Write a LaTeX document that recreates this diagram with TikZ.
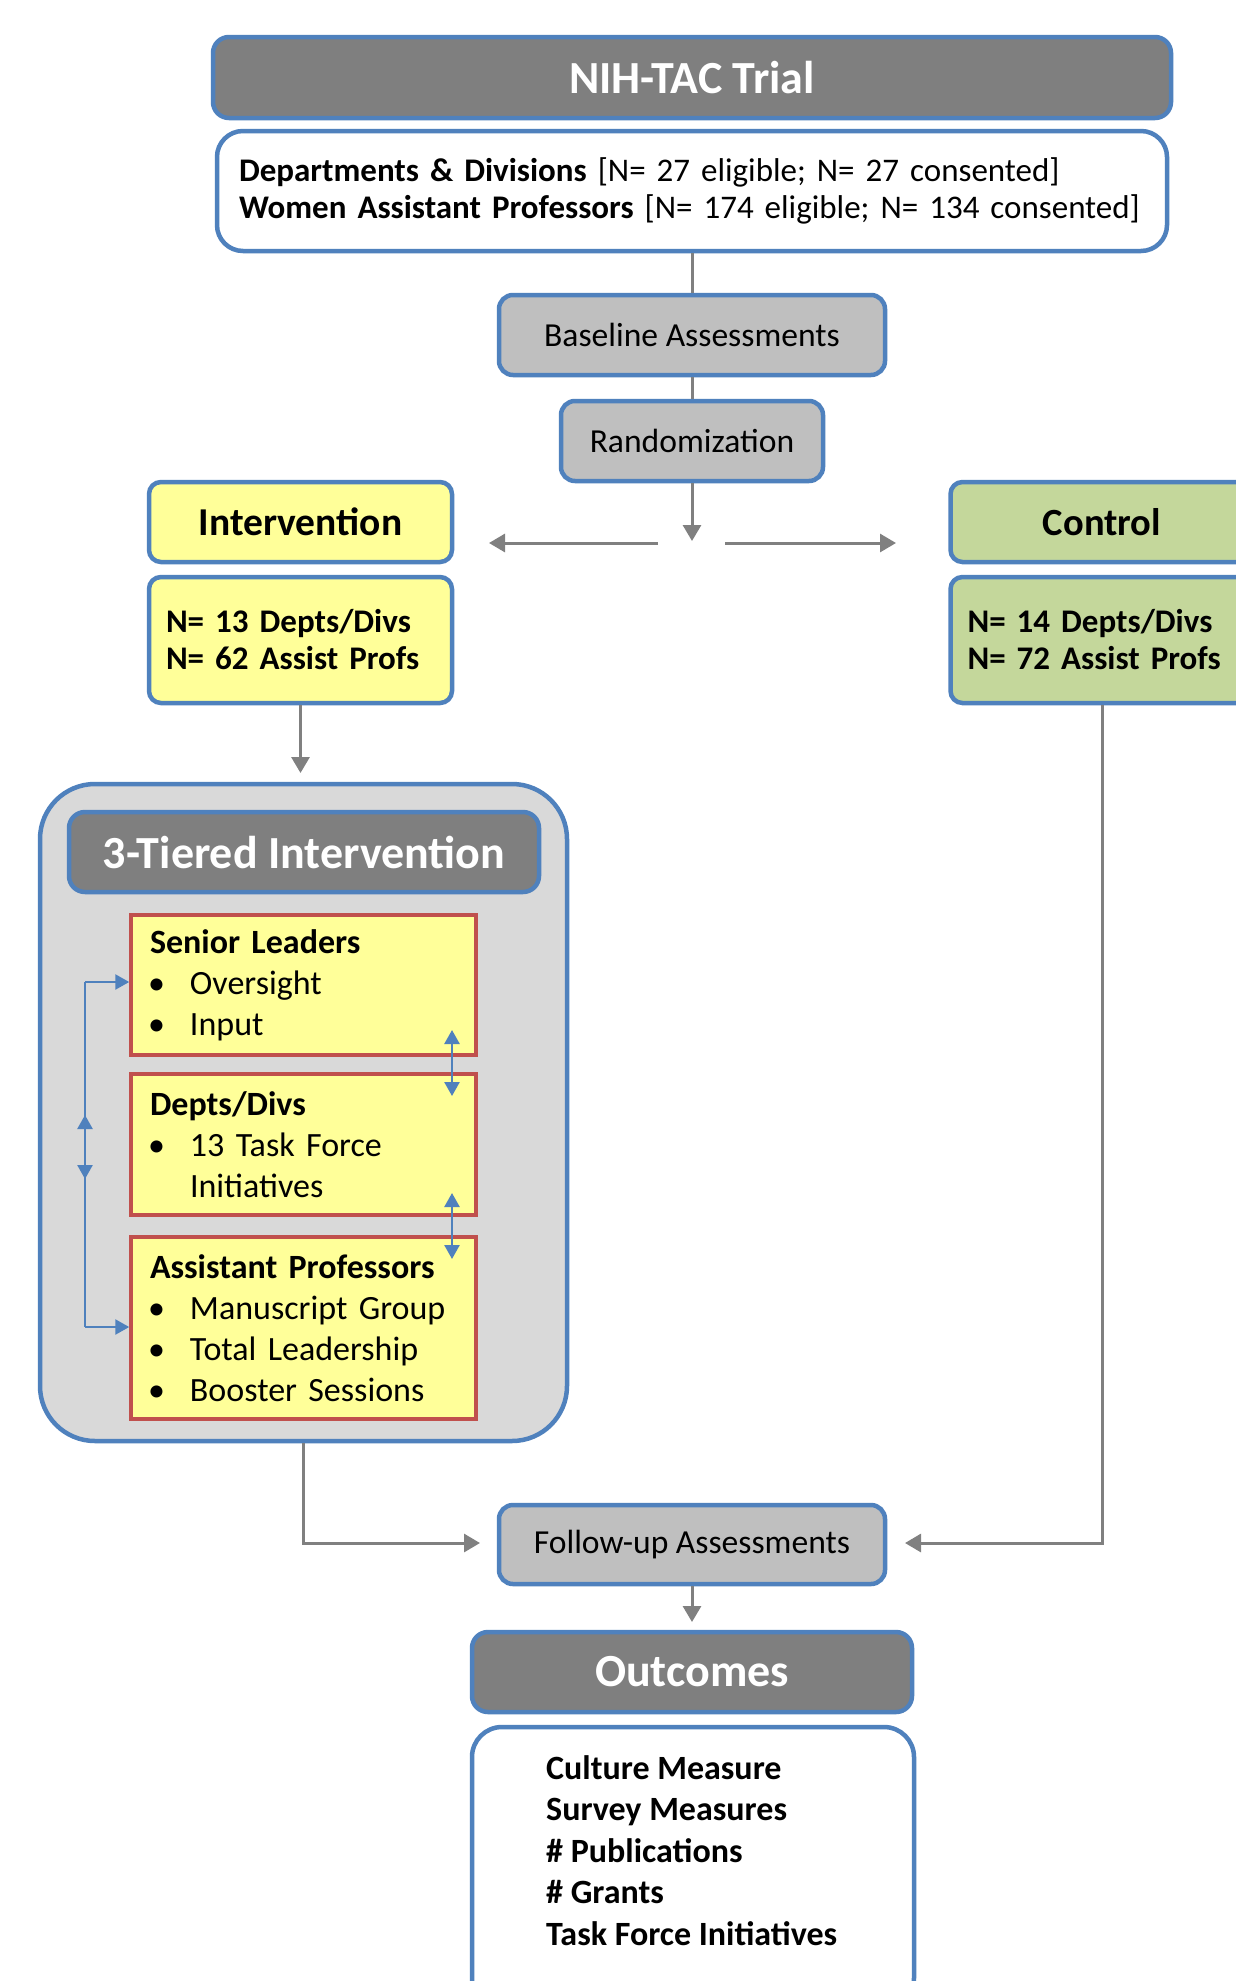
\documentclass[tikz,border=0pt]{standalone}
\usepackage{fontspec}
\setmainfont{Carlito}
\usetikzlibrary{arrows.meta}
\definecolor{bblue}{HTML}{4F81BD}
\definecolor{hdrgray}{HTML}{7F7F7F}
\definecolor{lgray}{HTML}{BFBFBF}
\definecolor{ygel}{HTML}{FFFF99}
\definecolor{gfill}{HTML}{C4D79B}
\definecolor{panelfill}{HTML}{D9D9D9}
\definecolor{rborder}{HTML}{C0504D}
\definecolor{cgray}{HTML}{808080}
\newcommand{\tbul}{\makebox[40pt][l]{\hspace{-2pt}\textbullet}}
\tikzset{
  box/.style={draw=bblue, line width=4.5pt, rounded corners=12pt, inner sep=0pt},
  hdr/.style={box, fill=hdrgray, text=white, rounded corners=16pt, font=\fontsize{46}{54}\selectfont\bfseries},
  greybox/.style={box, fill=lgray, rounded corners=14pt, font=\fontsize{33.6}{40}\selectfont},
  ybox/.style={box, fill=ygel},
  gbox/.style={box, fill=gfill},
  nbox/.style={minimum width=303pt, minimum height=126pt, text width=269pt, inner xsep=17pt, align=left, font=\fontsize{33}{37}\selectfont\bfseries},
  tier/.style={draw=rborder, line width=3.5pt, fill=ygel, inner xsep=19pt, inner ysep=0pt, align=left, text width=307pt, minimum width=345pt, font=\fontsize{34}{41}\selectfont},
  conn/.style={draw=cgray, line width=3pt},
  garrow/.style={conn, -{Triangle[length=16pt,width=18pt]}},
  bline/.style={draw=bblue, line width=2.5pt},
  barrow/.style={bline, -{Triangle[length=14pt,width=15pt]}},
  bdbl/.style={bline, {Triangle[length=14pt,width=15pt]}-{Triangle[length=14pt,width=15pt]}},
}
\begin{document}
\begin{tikzpicture}[x=1pt,y=-1pt]
\useasboundingbox (0,0) rectangle (1236,1981);
\clip (0,0) rectangle (1236,1981);
\fill[white] (0,0) rectangle (1236,1981);

% top
\node[hdr, minimum width=958pt, minimum height=81pt] (trial) at (692,77.5) {NIH-TAC Trial};
\node[box, fill=white, rounded corners=26pt, minimum width=950pt, minimum height=120pt,
      text width=906pt, inner xsep=22pt, align=left, font=\fontsize{33}{36.7}\selectfont] (info) at (692,191)
  {\textbf{Departments \& Divisions} [N= 27 eligible; N= 27 consented]\\
   \textbf{Women Assistant Professors} [N= 174 eligible; N= 134 consented]};
\node[greybox, minimum width=386pt, minimum height=80pt] (base) at (692,335) {Baseline Assessments};
\node[greybox, minimum width=262pt, minimum height=80pt] (rand) at (692,441) {Randomization};
\coordinate (rnd) at (692,541);
\coordinate (la1) at (658,543);
\coordinate (la2) at (489,543);
\coordinate (ra1) at (725,543);
\coordinate (ra2) at (896,543);
\draw[conn] (info.south) -- (base.north);
\draw[conn] (base.south) -- (rand.north);
\draw[garrow] (rand.south) -- (rnd);
\draw[garrow] (la1) -- (la2);
\draw[garrow] (ra1) -- (ra2);

% arms
\node[ybox, minimum width=303pt, minimum height=80pt, font=\fontsize{39.5}{46}\selectfont\bfseries] (int) at (300.5,522) {Intervention};
\node[ybox, nbox] (intn) at (300.5,640) {N= 13 Depts/Divs\\N= 62 Assist Profs};
\node[gbox, minimum width=303pt, minimum height=80pt, font=\fontsize{38.5}{46}\selectfont\bfseries] (ctrl) at (1102,522) {Control};
\node[gbox, nbox] (ctrln) at (1102,640) {N= 14 Depts/Divs\\N= 72 Assist Profs};
\coordinate (intarr) at (300.5,773);
\draw[garrow] (intn.south) -- (intarr);

% 3-tiered panel
\node[draw=bblue, line width=4.5pt, fill=panelfill, rounded corners=55pt, minimum width=527pt, minimum height=657pt] (panel) at (303.5,1112.5) {};
\node[hdr, minimum width=470pt, minimum height=80pt] (tierhdr) at (304,852) {3-Tiered Intervention};
\node[tier, minimum height=140pt] (senior) at (303.5,985)
  {\textbf{Senior Leaders}\\ \tbul Oversight\\ \tbul Input};
\node[tier, minimum height=141pt] (depts) at (303.5,1144.5)
  {\textbf{Depts/Divs}\\ \tbul 13 Task Force\\ \hspace*{40pt}Initiatives};
\node[tier, minimum height=182pt] (assist) at (303.5,1328)
  {\textbf{Assistant Professors}\\ \tbul Manuscript Group\\ \tbul Total Leadership\\ \tbul Booster Sessions};
\coordinate (bt) at (85,982);
\coordinate (bb) at (85,1327);
\coordinate (bm1) at (85,1115);
\coordinate (bm2) at (85,1179);
\draw[bline] (bt) -- (bb);
\draw[barrow] (bt) -- (senior.west |- bt);
\draw[barrow] (bb) -- (assist.west |- bb);
\draw[bdbl] (bm1) -- (bm2);
\coordinate (r1a) at (452,1030);
\coordinate (r1b) at (452,1096);
\coordinate (r2a) at (452,1193);
\coordinate (r2b) at (452,1259);
\draw[bdbl] (r1a) -- (r1b);
\draw[bdbl] (r2a) -- (r2b);

% follow-up
\node[greybox, minimum width=386pt, minimum height=79pt] (fu) at (692,1544.5) {Follow-up Assessments};
\coordinate (fuin) at (480,1543);
\coordinate (fuin2) at (905,1543);
\draw[garrow] (panel.south) |- (fuin);
\draw[garrow] (ctrln.south) |- (fuin2);
\coordinate (oarr) at (692,1622);
\draw[garrow] (fu.south) -- (oarr);

% outcomes
\node[hdr, minimum width=440pt, minimum height=80pt] (outhdr) at (692,1672) {Outcomes};
\node[box, fill=white, rounded corners=30pt, minimum width=442pt, minimum height=281pt] (outbox) at (693,1867.5) {};
\node[anchor=north west, inner sep=0pt, align=left, font=\fontsize{34}{41.5}\selectfont\bfseries] (olist) at (546,1755)
  {Culture Measure\\ Survey Measures\\ \# Publications\\ \# Grants\\ Task Force Initiatives};
\end{tikzpicture}
\end{document}
